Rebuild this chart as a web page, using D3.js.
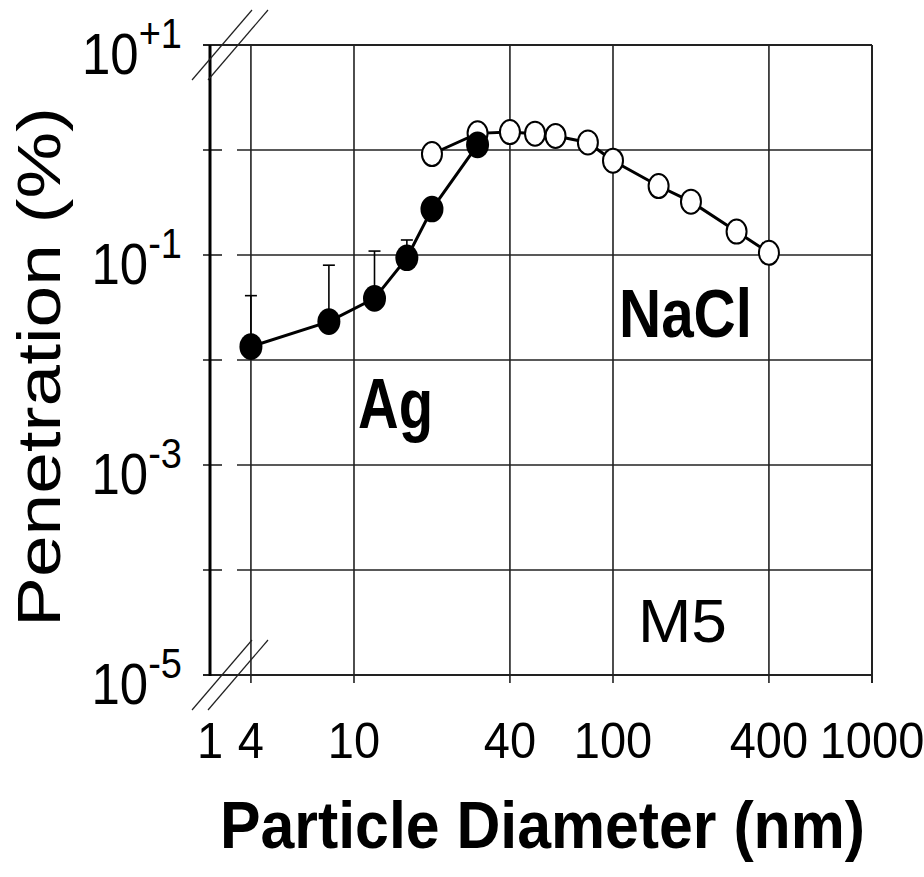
<!DOCTYPE html>
<html>
<head>
<meta charset="utf-8">
<script src="https://cdn.jsdelivr.net/npm/d3@7"></script>
<style>
  body { margin: 0; background: #fff; }
  svg { display: block; font-family: Arial, "Liberation Sans", Helvetica, sans-serif; }
</style>
</head>
<body>
<script>
// Ag particles (filled circles), upper error bars only
const agDiameter = [4, 8, 12, 16, 20, 30];
const agPenetration = [0.0134, 0.0232, 0.0386, 0.094, 0.274, 1.12];
const agErrorTop = [0.041, 0.080, 0.109, 0.139, null, null];

// NaCl particles (open circles)
const naclDiameter = [20, 30, 40, 50, 60, 80, 100, 150, 200, 300, 400];
const naclPenetration = [0.916, 1.44, 1.48, 1.43, 1.36, 1.18, 0.79, 0.454, 0.322, 0.167, 0.105];

const xTicks = [1, 4, 10, 40, 100, 400, 1000];
const xTickLabels = ["1", "4", "10", "40", "100", "400", "1000"];
const yGrid = [10, 1, 0.1, 0.01, 0.001, 0.0001, 0.00001];
const yLabelValues = [10, 0.1, 0.001, 0.00001];
const yLabelExp = ["+1", "-1", "-3", "-5"];

const width = 924, height = 877;
const mLeft = 210, mRight = 872, mTop = 45, mBottom = 675;

const svg = d3.select('body').append('svg')
    .attr('width', width)
    .attr('height', height);

svg.append('rect').attr('width', width).attr('height', height).attr('fill', '#fff');

// x axis is broken between 1 and 4, so 1 sits at the left edge (clamp)
const x = d3.scaleLog().domain([2.78, 1000]).range([mLeft, mRight]).clamp(true);
const y = d3.scaleLog().domain([1e-5, 10]).range([mBottom, mTop]);

const grid = svg.append('g').attr('stroke', '#222').attr('fill', 'none');

// horizontal grid, with a gap at the axis break
yGrid.forEach(v => {
    const yy = y(v);
    if (v === 10 || v === 1e-5) {
        grid.append('line').attr('x1', mLeft - 7).attr('x2', mRight)
            .attr('y1', yy).attr('y2', yy).attr('stroke-width', 2);
    } else {
        grid.append('line').attr('x1', mLeft - 7).attr('x2', mLeft + 12)
            .attr('y1', yy).attr('y2', yy).attr('stroke-width', 1.6);
        grid.append('line').attr('x1', mLeft + 27).attr('x2', mRight)
            .attr('y1', yy).attr('y2', yy).attr('stroke-width', 1.6);
    }
});

// vertical grid + ticks below axis
xTicks.filter(v => v > 1).forEach(v => {
    grid.append('line').attr('x1', x(v)).attr('x2', x(v))
        .attr('y1', mTop).attr('y2', mBottom + 8)
        .attr('stroke-width', v === 1000 ? 2 : 1.6);
});

// y axis
svg.append('line').attr('x1', mLeft).attr('x2', mLeft)
    .attr('y1', mTop).attr('y2', mBottom + 1)
    .attr('stroke', '#000').attr('stroke-width', 3);

// axis break marks
const brk = svg.append('g').attr('stroke', '#222').attr('stroke-width', 1.2);
[mTop, mBottom].forEach(yy => {
    [-18, -2].forEach(dx => {
        brk.append('line')
            .attr('x1', mLeft + dx).attr('y1', yy + 35)
            .attr('x2', mLeft + dx + 60).attr('y2', yy - 35);
    });
});

// y tick labels
yLabelValues.forEach((v, i) => {
    const t = svg.append('text')
        .attr('transform', `translate(182,${y(v) + 29}) scale(1,1.12)`)
        .attr('text-anchor', 'end')
        .attr('fill', '#000');
    t.append('tspan').attr('font-size', 51).text('10');
    t.append('tspan').attr('font-size', 38).attr('dy', -23).text(yLabelExp[i]);
});

// x tick labels
xTicks.forEach((v, i) => {
    svg.append('text')
        .attr('transform', `translate(${x(v)},758) scale(1,1.07)`)
        .attr('text-anchor', 'middle')
        .attr('font-size', 47)
        .text(xTickLabels[i]);
});

// axis titles
svg.append('text')
    .attr('transform', 'translate(60,627) rotate(-90)')
    .attr('font-size', 62)
    .attr('textLength', 520)
    .attr('lengthAdjust', 'spacingAndGlyphs')
    .text('Penetration (%)');

svg.append('text')
    .attr('x', 220).attr('y', 848)
    .attr('font-size', 66)
    .attr('font-weight', 'bold')
    .attr('textLength', 645)
    .attr('lengthAdjust', 'spacingAndGlyphs')
    .text('Particle Diameter (nm)');

// annotations
const note = (txt, xx, yy, size, weight, len) => svg.append('text')
    .attr('x', xx).attr('y', yy)
    .attr('font-size', size)
    .attr('font-weight', weight)
    .attr('textLength', len)
    .attr('lengthAdjust', 'spacingAndGlyphs')
    .text(txt);
note('Ag', 358, 428, 70, 'bold', 75);
note('NaCl', 619, 337, 68, 'bold', 133);
note('M5', 638, 642, 62, 'normal', 89);

// NaCl series
const nacl = naclDiameter.map((d, i) => ({ d, p: naclPenetration[i] }));
const ag = agDiameter.map((d, i) => ({ d, p: agPenetration[i], e: agErrorTop[i] }));

const line = d3.line().x(d => x(d.d)).y(d => y(d.p));

svg.append('path').datum(nacl)
    .attr('d', line)
    .attr('fill', 'none').attr('stroke', '#000').attr('stroke-width', 3);

svg.selectAll('ellipse.nacl').data(nacl).enter().append('ellipse')
    .attr('class', 'nacl')
    .attr('cx', d => x(d.d)).attr('cy', d => y(d.p))
    .attr('rx', 10).attr('ry', 12)
    .attr('fill', '#fff').attr('stroke', '#000').attr('stroke-width', 2);

// Ag error bars (upper only)
const eb = svg.append('g').attr('stroke', '#000').attr('stroke-width', 1.6);
ag.filter(d => d.e).forEach(d => {
    eb.append('line').attr('x1', x(d.d)).attr('x2', x(d.d))
        .attr('y1', y(d.p)).attr('y2', y(d.e));
    eb.append('line').attr('x1', x(d.d) - 6).attr('x2', x(d.d) + 6)
        .attr('y1', y(d.e)).attr('y2', y(d.e));
});

svg.append('path').datum(ag)
    .attr('d', line)
    .attr('fill', 'none').attr('stroke', '#000').attr('stroke-width', 3);

svg.selectAll('ellipse.ag').data(ag).enter().append('ellipse')
    .attr('class', 'ag')
    .attr('cx', d => x(d.d)).attr('cy', d => y(d.p))
    .attr('rx', 11.5).attr('ry', 13.3)
    .attr('fill', '#000');
</script>
</body>
</html>
